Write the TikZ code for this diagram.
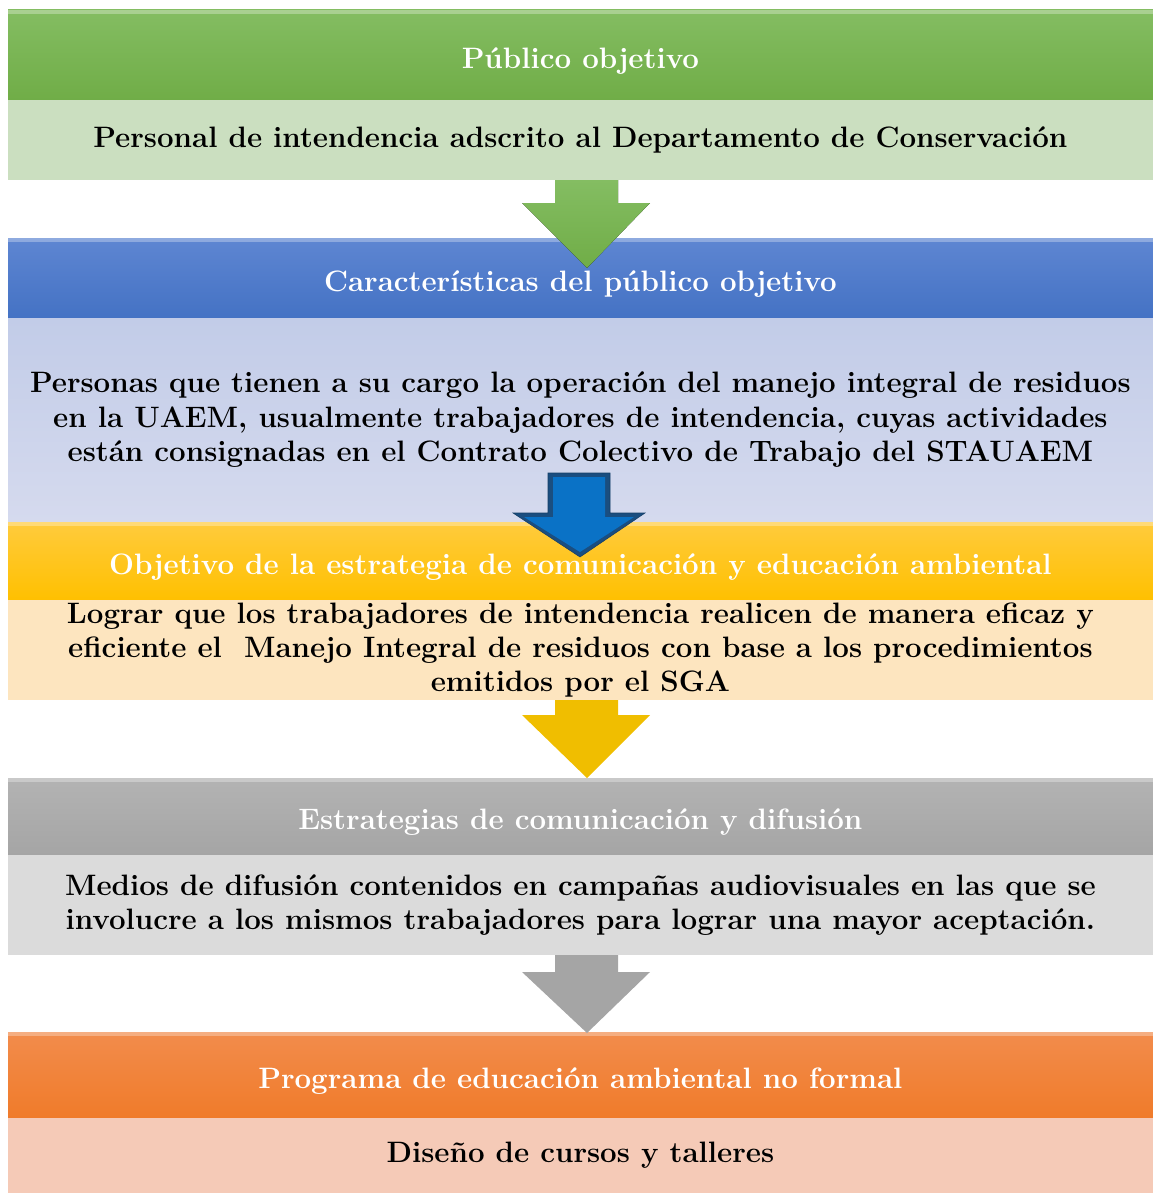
\documentclass[tikz,border=0pt]{standalone}
\usepackage{tikz}

\definecolor{verdeA}{HTML}{84BD62}
\definecolor{verdeB}{HTML}{70AD47}
\definecolor{verdeC}{HTML}{CBDFC0}
\definecolor{azulA}{HTML}{5E86D2}
\definecolor{azulB}{HTML}{4472C4}
\definecolor{azulC}{HTML}{C2CCE8}
\definecolor{azulD}{HTML}{D5DAEE}
\definecolor{amarA}{HTML}{FFCB3D}
\definecolor{amarB}{HTML}{FFC000}
\definecolor{amarC}{HTML}{FDE5BF}
\definecolor{grisA}{HTML}{B3B3B3}
\definecolor{grisB}{HTML}{A5A5A5}
\definecolor{grisC}{HTML}{DBDBDB}
\definecolor{naraA}{HTML}{F28C4C}
\definecolor{naraB}{HTML}{F07B2A}
\definecolor{naraC}{HTML}{F5CAB7}
\definecolor{flechaAzul}{HTML}{0A72C6}
\definecolor{flechaAzulOsc}{HTML}{1A4E80}
\definecolor{flechaAmar}{HTML}{F0BE00}

\begin{document}
\begin{tikzpicture}[x=0.02cm, y=-0.02cm,
    banda/.style={anchor=north west, minimum width=22.9cm, inner sep=0pt,
                  outer sep=0pt, align=center,
                  font=\bfseries\fontsize{16.8}{19.6}\selectfont},
    titulo/.style={banda, text=white, text height=19pt, text depth=4pt,
                  path picture={\fill[white,opacity=.3]
                    (path picture bounding box.north west) rectangle
                    ([yshift=-2.5pt]path picture bounding box.north east);}},
    cuerpo/.style={banda, text=black}]
    \useasboundingbox (0,0) rectangle (1153,1193);

    % verde
    \node[titulo, minimum height=1.8cm, top color=verdeA, bottom color=verdeB]
        (t1) at (8,10) {P\'ublico objetivo};
    \node[cuerpo, minimum height=1.6cm, fill=verdeC]
        (c1) at (8,100) {Personal de intendencia adscrito al Departamento de Conservaci\'on};

    % azul
    \node[titulo, minimum height=1.6cm, top color=azulA, bottom color=azulB]
        (t2) at (8,238) {Caracter\'isticas del p\'ublico objetivo};
    \node[cuerpo, minimum height=4.08cm, top color=azulC, bottom color=azulD]
        (c2) at (8,318) {Personas que tienen a su cargo la operaci\'on del manejo integral de residuos\\
                         en la UAEM, usualmente trabajadores de intendencia, cuyas actividades\\
                         est\'an consignadas en el Contrato Colectivo de Trabajo del STAUAEM};

    % amarillo
    \node[titulo, minimum height=1.56cm, top color=amarA, bottom color=amarB]
        (t3) at (8,522) {Objetivo de la estrategia de comunicaci\'on y educaci\'on ambiental};
    \node[cuerpo, minimum height=2cm, fill=amarC]
        (c3) at (8,600) {Lograr que los trabajadores de intendencia realicen de manera eficaz y\\
                         eficiente el \ Manejo Integral de residuos con base a los procedimientos\\
                         emitidos por el SGA};

    % gris
    \node[titulo, minimum height=1.54cm, top color=grisA, bottom color=grisB]
        (t4) at (8,778) {Estrategias de comunicaci\'on y difusi\'on};
    \node[cuerpo, minimum height=2cm, fill=grisC]
        (c4) at (8,855) {Medios de difusi\'on contenidos en campa\~nas audiovisuales en las que se\\
                         involucre a los mismos trabajadores para lograr una mayor aceptaci\'on.};

    % naranja
    \node[titulo, minimum height=1.72cm, top color=naraA, bottom color=naraB]
        (t5) at (8,1032) {Programa de educaci\'on ambiental no formal};
    \node[cuerpo, minimum height=1.5cm, fill=naraC]
        (c5) at (8,1118) {Dise\~no de cursos y talleres};

    % flechas
    \fill[top color=verdeA, bottom color=verdeB]
        (555,180) -- (618,180) -- (618,203) -- (650,203) -- (587,268)
        -- (522,203) -- (555,203) -- cycle;
    \fill[flechaAmar]
        (555,700) -- (618,700) -- (618,715) -- (650,715) -- (587,778)
        -- (522,715) -- (555,715) -- cycle;
    \fill[grisB]
        (555,955) -- (618,955) -- (618,972) -- (650,972) -- (587,1033)
        -- (522,972) -- (555,972) -- cycle;
    \draw[fill=flechaAzulOsc, draw=flechaAzulOsc!80!black, line width=0.3pt]
        (548,473) -- (610,473) -- (610,513) -- (645,513) -- (580,557)
        -- (513,513) -- (548,513) -- cycle;
    \fill[flechaAzul]
        (553,477) -- (605,477) -- (605,517) -- (634,517) -- (580,552)
        -- (524,517) -- (553,517) -- cycle;
\end{tikzpicture}
\end{document}
